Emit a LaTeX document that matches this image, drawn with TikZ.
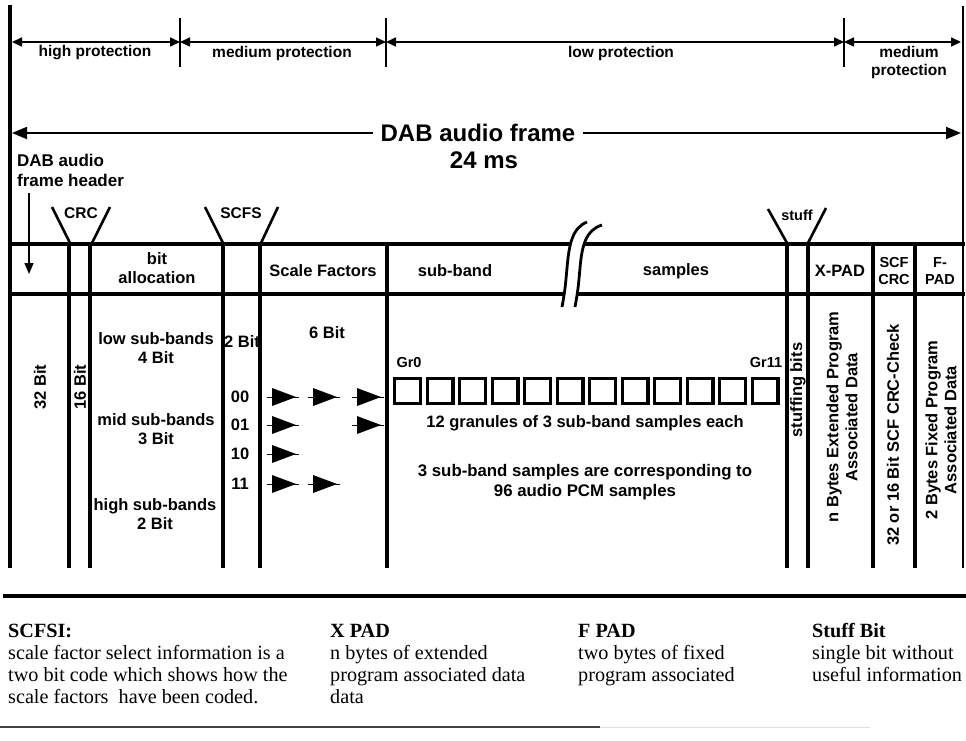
\documentclass[tikz,border=0pt]{standalone}
\usepackage{fontspec}
\setmainfont{Liberation Sans}
\newfontfamily\serifx{Liberation Serif}
\usetikzlibrary{arrows.meta}
\newcommand\sfarrow[2]{%
  \draw[line width=1pt] ({#1-5},#2) -- ({#1+27},#2);
  \fill ({#1},{#2-9}) -- ({#1+24},#2) -- ({#1},{#2+9}) -- cycle;}
\begin{document}
\begin{tikzpicture}[x=1pt,y=-1pt,
  lbl/.style={font=\fontsize{15.5}{18}\selectfont\bfseries, inner sep=0pt, align=center},
  body/.style={font=\fontsize{16.5}{19}\selectfont\bfseries, inner sep=0pt, align=center},
  lbls/.style={font=\fontsize{14.5}{17}\selectfont\bfseries, inner sep=0pt, align=center},
  big/.style={font=\fontsize{24}{27}\selectfont\bfseries, inner ysep=0pt, inner xsep=7pt, align=center},
  col/.style={line width=3.2pt},
  tick/.style={line width=1.3pt},
  funnel/.style={line width=2.6pt},
  dimarr/.style={line width=1.6pt, {Triangle[length=10pt,width=9pt]}-{Triangle[length=10pt,width=9pt]}},
  framearr/.style={line width=1.8pt, -{Triangle[length=15pt,width=12pt]}},
  btxt/.style={font=\serifx\fontsize{20.2}{22}\selectfont, inner sep=0pt, align=left, anchor=north west},
]
\useasboundingbox (0,0) rectangle (966,741);

% ---------- protection arrows ----------
\draw[line width=4pt] (10,5) -- (10,568);
\draw[line width=2.8pt] (963,6) -- (963,568);
\draw[tick] (180,18) -- (180,67);
\draw[tick] (386,18) -- (386,67);
\draw[tick] (844,18) -- (844,67);
\coordinate (t0) at (12,42);
\coordinate (t1) at (180,42);
\coordinate (t2) at (386,42);
\coordinate (t3) at (844,42);
\coordinate (t4) at (961,42);
\draw[dimarr] (t0) -- (t1);
\draw[dimarr] (t1) -- (t2);
\draw[dimarr] (t2) -- (t3);
\draw[dimarr] (t3) -- (t4);
\node[lbl] (hp) at (95,53) {high protection};
\node[lbl] (mp) at (282,53) {medium protection};
\node[lbl] (lp) at (621,53) {low protection};
\node[lbl] (mp2) at (909,62) {medium\\protection};

% ---------- DAB audio frame ----------
\node[big] (daf) at (478,133) {DAB audio frame};
\node[big] (ms) at (484,160) {24 ms};
\coordinate (fl) at (12,133);
\coordinate (fr) at (961,133);
\draw[framearr] (daf.west) -- (fl);
\draw[framearr] (daf.east) -- (fr);

\node[font=\fontsize{17}{20}\selectfont\bfseries, inner sep=0pt, align=left, anchor=west] (hdr) at (17,170) {DAB audio\\frame header};
\coordinate (da0) at (29,193);
\coordinate (da1) at (29,274);
\draw[line width=1.4pt, -{Triangle[length=11pt,width=9pt]}] (da0) -- (da1);

% ---------- funnels ----------
\draw[funnel] (52,207) -- (70,243);
\draw[funnel] (110,207) -- (92,243);
\node[lbl] (crc) at (81,213) {CRC};
\draw[funnel] (205,207) -- (223,243);
\draw[funnel] (278,207) -- (261,243);
\node[lbl] (scfs) at (241,213) {SCFS};
\draw[funnel] (768,209) -- (787,243);
\draw[funnel] (826,208) -- (808,243);
\node[lbls] (stf) at (797,215) {stuff};

% ---------- table ----------
\draw[line width=4pt] (8,244) -- (965,244);
\draw[line width=3.4pt] (8,294) -- (965,294);
\foreach \x in {69,90,223,260,387,787,808,873,915}
  \draw[col] (\x,244) -- (\x,568);

% break symbol
\fill[white] (585,223) .. controls (572,228) and (569,245) .. (567,268)
  .. controls (565,290) .. (562,307) -- (575,307)
  .. controls (578,290) .. (580,268)
  .. controls (582,245) and (586,230) .. (600,226) -- cycle;
\draw[line width=2.8pt] (587,222) .. controls (572,228) and (569,245) .. (567,268)
  .. controls (565,290) .. (562,307);
\draw[line width=2.8pt] (602,225) .. controls (586,230) and (582,245) .. (580,268)
  .. controls (578,290) .. (575,307);

% header row labels
\node[body] (ba) at (157,268) {bit\\allocation};
\node[body] (sf) at (323,271) {Scale Factors};
\node[body] (sb) at (455,271) {sub-band};
\node[body] (smp) at (676,271) {samples};
\node[body] (xpad) at (840,271) {X-PAD};
\node[lbls] (scfcrc) at (894,271) {SCF\\CRC};
\node[lbls] (fpad) at (940,271) {F-\\PAD};

% body
\node[body, rotate=90] (b32) at (40,387) {32 Bit};
\node[body, rotate=90] (b16) at (80,387) {16 Bit};
\node[body] (low) at (156,348) {low sub-bands\\4 Bit};
\node[body] (mid) at (156,429) {mid sub-bands\\3 Bit};
\node[body] (high) at (155,514) {high sub-bands\\2 Bit};
\node[body] (twob) at (242,342) {2 Bit};
\node[body] (sixb) at (327,333) {6 Bit};
\node[body] (c00) at (240,397) {00};
\node[body] (c01) at (240,425) {01};
\node[body] (c10) at (240,454) {10};
\node[body] (c11) at (240,484) {11};
\sfarrow{272}{397}\sfarrow{313}{397}\sfarrow{357}{397}
\sfarrow{272}{425}\sfarrow{357}{425}
\sfarrow{272}{454}
\sfarrow{272}{484}\sfarrow{313}{484}

\foreach \i in {0,...,11}
  \draw[line width=3.2pt] ({393+32.5*\i+1.6},378.6) rectangle ({393+32.5*\i+27.4},403.4);
\node[lbls] (gr0) at (409,363) {Gr0};
\node[lbls] (gr11) at (766,363) {Gr11};
\node[body] (gran) at (585,423) {12 granules of 3 sub-band samples each};
\node[body, font=\fontsize{16.8}{19.5}\selectfont\bfseries] (corr) at (585,482) {3 sub-band samples are corresponding to\\96 audio PCM samples};

\node[body, rotate=90] (stb) at (798,390) {stuffing bits};
\node[body, rotate=90] (xd) at (842,417) {n Bytes Extended Program\\Associated Data};
\node[body, rotate=90] (scd) at (893,435) {32 or 16 Bit SCF CRC-Check};
\node[body, rotate=90] (fd) at (941,430) {2 Bytes Fixed Program\\Associated Data};

% ---------- legend ----------
\draw[line width=4pt] (3,596) -- (966,596);
\draw[line width=1.5pt, black!75] (0,727) -- (600,727);
\draw[line width=1pt, black!12] (600,727) -- (870,727);
\node[btxt] (lg1) at (8,622) {\strut\textbf{SCFSI:}\\scale factor select information is a\\two bit code which shows how the\\scale factors\ \ have been coded.};
\node[btxt] (lg2) at (330,622) {\strut\textbf{X PAD}\\n bytes of extended\\program associated data\\data};
\node[btxt] (lg3) at (578,622) {\strut\textbf{F PAD}\\two bytes of fixed\\program associated};
\node[btxt] (lg4) at (812,622) {\strut\textbf{Stuff Bit}\\single bit without\\useful information};
\end{tikzpicture}
\end{document}
